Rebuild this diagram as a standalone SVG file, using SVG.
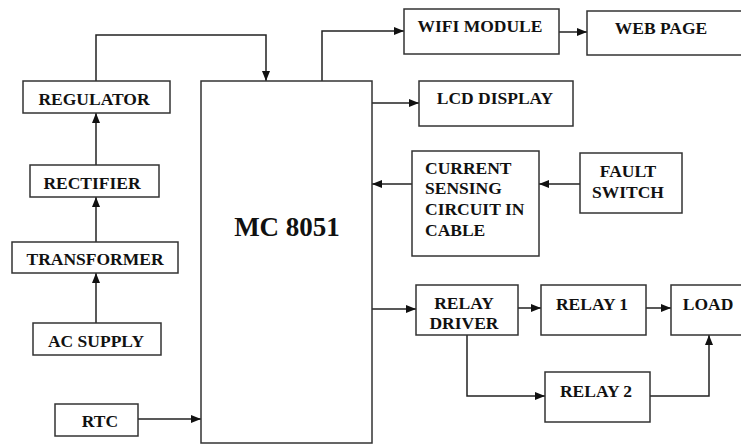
<svg xmlns="http://www.w3.org/2000/svg" width="741" height="448" viewBox="0 0 741 448">
<style>
.box{fill:#fff;stroke:#333;stroke-width:1.5}
.t{font-family:"Liberation Serif","Times New Roman",serif;font-weight:bold;font-size:17.5px;fill:#111;text-anchor:middle}
.tl{font-family:"Liberation Serif","Times New Roman",serif;font-weight:bold;font-size:17.5px;fill:#111}
.big{font-size:27px}
.c{fill:none;stroke:#222;stroke-width:1.5}
</style>
<defs>
<marker id="ah" markerUnits="userSpaceOnUse" markerWidth="11" markerHeight="9" refX="10" refY="4" orient="auto">
<path d="M0,0 L10,4 L0,8 Z" fill="#111"/>
</marker>
</defs>
<rect width="741" height="448" fill="#fff"/>
<g id="connectors">
<path class="c" d="M96,81 V35 H266 V81" marker-end="url(#ah)"/>
<path class="c" d="M322,81 V31 H404" marker-end="url(#ah)"/>
<path class="c" d="M559,32 H587" marker-end="url(#ah)"/>
<path class="c" d="M372,103 H419" marker-end="url(#ah)"/>
<path class="c" d="M412,184 H372" marker-end="url(#ah)"/>
<path class="c" d="M580,184 H539" marker-end="url(#ah)"/>
<path class="c" d="M372,309 H416" marker-end="url(#ah)"/>
<path class="c" d="M518,308 H541" marker-end="url(#ah)"/>
<path class="c" d="M646,308 H671" marker-end="url(#ah)"/>
<path class="c" d="M467,335 V396 H545" marker-end="url(#ah)"/>
<path class="c" d="M650,396 H709 V335" marker-end="url(#ah)"/>
<path class="c" d="M96,165 V113" marker-end="url(#ah)"/>
<path class="c" d="M96,242 V197" marker-end="url(#ah)"/>
<path class="c" d="M96,323 V273" marker-end="url(#ah)"/>
<path class="c" d="M138,419 H201" marker-end="url(#ah)"/>
</g>
<g id="mc8051"><rect class="box" x="201" y="81" width="171" height="362"/><text class="t big" x="287" y="236">MC 8051</text></g>
<g id="regulator"><rect class="box" x="23" y="81" width="147" height="32"/><text class="t" x="94" y="105">REGULATOR</text></g>
<g id="rectifier"><rect class="box" x="30" y="165" width="129" height="32"/><text class="t" x="92" y="189">RECTIFIER</text></g>
<g id="transformer"><rect class="box" x="12" y="242" width="166" height="31"/><text class="t" x="95" y="265">TRANSFORMER</text></g>
<g id="acsupply"><rect class="box" x="33" y="323" width="128" height="32"/><text class="t" x="96" y="347">AC SUPPLY</text></g>
<g id="rtc"><rect class="box" x="55" y="404" width="83" height="32"/><text class="t" x="100" y="427">RTC</text></g>
<g id="wifi"><rect class="box" x="404" y="9" width="155" height="45"/><text class="t" x="480" y="32">WIFI MODULE</text></g>
<g id="webpage"><rect class="box" x="587" y="11" width="155" height="44"/><text class="t" x="661" y="34">WEB PAGE</text></g>
<g id="lcd"><rect class="box" x="419" y="81" width="154" height="45"/><text class="t" x="495" y="104">LCD DISPLAY</text></g>
<g id="currentsensing"><rect class="box" x="412" y="151" width="127" height="105"/>
<text class="tl" x="425" y="174">CURRENT</text><text class="tl" x="425" y="194">SENSING</text><text class="tl" x="425" y="215">CIRCUIT IN</text><text class="tl" x="425" y="236">CABLE</text></g>
<g id="faultswitch"><rect class="box" x="580" y="153" width="102" height="60"/><text class="t" x="628" y="177">FAULT</text><text class="t" x="628" y="198">SWITCH</text></g>
<g id="relaydriver"><rect class="box" x="416" y="285" width="102" height="50"/><text class="t" x="464" y="309">RELAY</text><text class="t" x="464" y="329">DRIVER</text></g>
<g id="relay1"><rect class="box" x="541" y="285" width="105" height="50"/><text class="t" x="592" y="310">RELAY 1</text></g>
<g id="load"><rect class="box" x="671" y="285" width="72" height="50"/><text class="t" x="708" y="310">LOAD</text></g>
<g id="relay2"><rect class="box" x="545" y="372" width="105" height="50"/><text class="t" x="596" y="397">RELAY 2</text></g>
</svg>
